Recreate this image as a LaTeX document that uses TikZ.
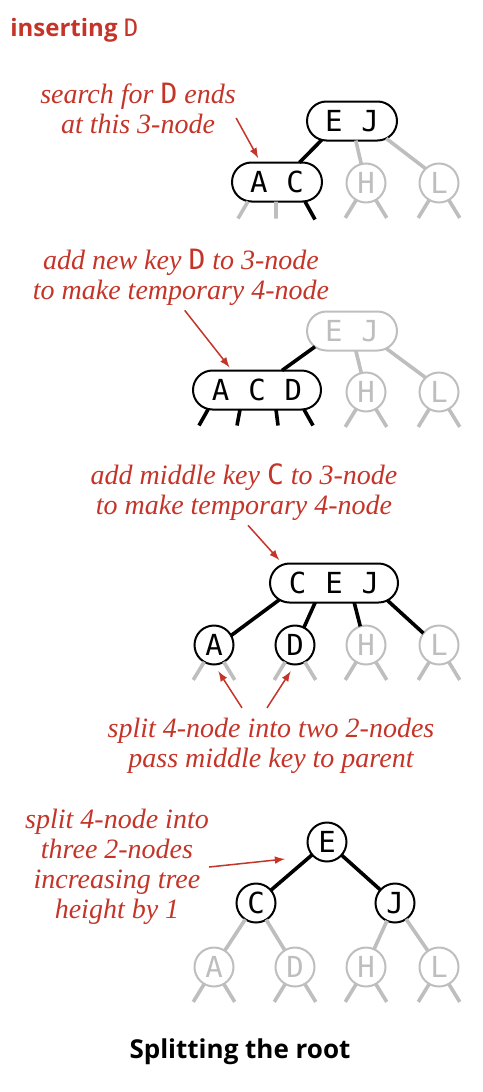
\documentclass[tikz,border=0pt]{standalone}
\usepackage{fontspec}
\setmainfont{Liberation Serif}
\newfontfamily\keyfont{DejaVu Sans Mono}
\newfontfamily\headfont{Open Sans}
\usetikzlibrary{shapes.misc}
\definecolor{notered}{RGB}{196,52,40}
\definecolor{fadegray}{RGB}{190,190,190}
\newcommand{\keysep}{\hspace{9.5pt}}
\newcommand{\keyname}[1]{{\keyfont\mdseries\upshape #1}}

\begin{document}
\begin{tikzpicture}[
		x=0.5pt, y=-0.5pt,
		keynode/.style = {draw, line width=1pt, inner sep=0pt, outer sep=0pt, font=\keyfont\fontsize{14.5}{15}\selectfont},
		node2/.style = {keynode, circle, minimum size=19.5pt},
		node3/.style = {keynode, rounded rectangle, minimum height=19.5pt, minimum width=45pt},
		node4/.style = {node3, minimum width=64pt},
		faded/.style = {draw=fadegray, text=fadegray},
		link/.style = {line width=1.8pt},
		stub/.style = {link, draw=fadegray},
		note/.style = {notered, align=center, inner sep=0pt, font=\itshape\fontsize{14}{15}\selectfont},
		pointer/.style = {-latex, draw=notered, line width=0.75pt},
	]
	\path[use as bounding box] (0,0) rectangle (482,1092);
	\node[anchor=base west, inner sep=0pt, notered, font=\headfont\bfseries\fontsize{12}{14}\selectfont] (hdr) at (10,36) {inserting \keyname{D}};

	% search ends at the 3-node
	\node[node3] (ej1) at (352,121) {E\keysep J};
	\node[node3] (ac1) at (277,182) {A\keysep C};
	\node[node2, faded] (h1) at (366,183) {H};
	\node[node2, faded] (l1) at (439,183) {L};
	\draw[link] (ej1.212) -- (ac1.41);
	\draw[stub] (ej1.281) -- (h1.104) (ej1.333) -- (l1.133);
	\draw[stub] ([xshift=-14.5pt]ac1.south) -- ++(-10,17) ([xshift=-0.5pt]ac1.south) -- ++(0,17);
	\draw[link] ([xshift=14pt]ac1.south) -- ++(10,18);
	\node[note] (t1) at (138,108) {search for \keyname{D} ends\\at this 3-node};
	\draw[pointer, shorten >=2.5pt] ([yshift=-5pt]t1.east) -- (ac1.130);

	% temporary 4-node
	\node[node3, faded] (ej2) at (352,331) {E\keysep J};
	\node[node4] (acd) at (257,390) {A\keysep C\keysep D};
	\node[node2, faded] (h2) at (366,392) {H};
	\node[node2, faded] (l2) at (439,392) {L};
	\draw[link] (ej2.203) -- (acd.38);
	\draw[stub] (ej2.281) -- (h2.104) (ej2.333) -- (l2.133);
	\foreach \dx/\tx in {-24.5/-9, -8.5/-3, 9.5/2, 23.5/9}
		\draw[link] ([xshift=\dx pt]acd.south) -- ++(\tx,16);
	\node[note] (t2) at (181,277) {add new key \keyname{D} to 3-node\\to make temporary 4-node};
	\draw[pointer, shorten <=3pt, shorten >=2pt] (t2.south) -- (acd.142);

	% middle key moves up
	\node[node4] (cej) at (334,583) {C\keysep E\keysep J};
	\node[node2] (a3) at (214,645) {A};
	\node[node2] (d3) at (295,645) {D};
	\node[node2, faded] (h3) at (366,645) {H};
	\node[node2, faded] (l3) at (439,645) {L};
	\draw[link] (cej.197) -- (a3.29) (cej.226) -- (d3.63) (cej.316) -- (h3.107) (cej.342) -- (l3.143);
	\node[note] (t3) at (244,492) {add middle key \keyname{C} to 3-node\\to make temporary 4-node};
	\draw[pointer, shorten <=3pt, shorten >=3pt] (t3.south) -- (cej.160);
	\node[note] (t4) at (271,746) {split 4-node into two 2-nodes\\pass middle key to parent};
	\draw[pointer, shorten >=4pt] ([xshift=-14.5pt,yshift=5pt]t4.north) -- (a3.south);
	\draw[pointer, shorten >=4pt] ([xshift=-2pt,yshift=5pt]t4.north) -- (d3.south);

	% new root
	\node[node2] (e4) at (327,842) {E};
	\node[node2] (c4) at (256,903) {C};
	\node[node2] (j4) at (395,903) {J};
	\node[node2, faded] (a4) at (214,967) {A};
	\node[node2, faded] (d4) at (295,967) {D};
	\node[node2, faded] (h4) at (366,967) {H};
	\node[node2, faded] (l4) at (439,967) {L};
	\draw[link] (e4) -- (c4) (e4) -- (j4);
	\draw[stub] (c4) -- (a4) (c4) -- (d4) (j4) -- (h4) (j4) -- (l4);
	\node[note] (t5) at (117,867) {split 4-node into\\three 2-nodes\\increasing tree\\height by 1};
	\coordinate (tip5) at (285,859);
	\draw[pointer] (t5.east) -- (tip5);

	\foreach \n in {h1,l1,h2,l2,a3,d3,h3,l3,a4,d4,h4,l4}
		\draw[stub] (\n.240) -- ++(-11,18) (\n.300) -- ++(11,18);

	\node[anchor=base, inner sep=0pt, font=\headfont\bfseries\fontsize{13}{15}\selectfont] (title) at (240,1058) {Splitting the root};
\end{tikzpicture}
\end{document}
